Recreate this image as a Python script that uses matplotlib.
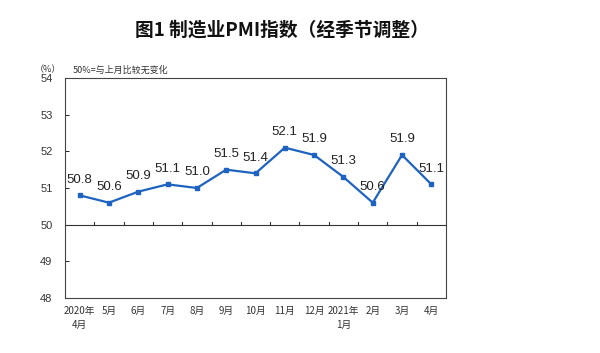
import matplotlib
matplotlib.use("Agg")
import matplotlib.pyplot as plt

plt.rcParams['font.family'] = ['Noto Sans CJK SC', 'DejaVu Sans']

categories = ["2020年\n4月", "5月", "6月", "7月", "8月", "9月", "10月", "11月", "12月",
              "2021年\n1月", "2月", "3月", "4月"]
pmi = [50.8, 50.6, 50.9, 51.1, 51.0, 51.5, 51.4, 52.1, 51.9, 51.3, 50.6, 51.9, 51.1]
y_ticks = [48, 49, 50, 51, 52, 53, 54]

fig = plt.figure(figsize=(6.0, 3.53), dpi=100)
ax = fig.add_axes([65/600, 1-298/353, (446-65)/600, (298-78)/353])

blue = "#1f63c0"
x = list(range(len(pmi)))
ax.plot(x, pmi, color=blue, lw=1.6, marker="s", ms=3.5, zorder=3)
for xi, v in zip(x, pmi):
    ax.annotate(f"{v:.1f}", (xi, v), xytext=(0, 7), textcoords="offset points",
                ha="center", va="bottom", fontsize=9.5, family=["Liberation Sans"],
                color="#222222")

ax.set_xlim(-0.5, len(pmi) - 0.5)
ax.set_ylim(48, 54)
ax.set_yticks(y_ticks)
ax.set_yticklabels([str(t) for t in y_ticks], fontsize=8, family=["Liberation Sans"], color="#333333")
ax.tick_params(axis="y", direction="in", length=3, width=0.6, pad=9, left=True)
ax.set_xticks(x)
ax.set_xticklabels(categories, fontsize=7, color="#333333", linespacing=1.4)
ax.tick_params(axis="x", length=0, pad=6)
for s in ax.spines.values():
    s.set_color("#444444")
    s.set_linewidth(0.8)

# 50 reference line with small category boundary ticks
ax.axhline(50, color="#333333", lw=0.8, zorder=2)
for b in range(1, len(pmi)):
    ax.plot([b - 0.5, b - 0.5], [50, 50.07], color="#333333", lw=0.8)

fig.text(282/600, 1-30/353, "图1 制造业PMI指数（经季节调整）", ha="center", va="center",
         fontsize=13.5, fontweight="bold", color="#111111")
fig.text(35/600, 1-70/353, "（%）", ha="left", va="center", fontsize=6.5, color="#333333")
fig.text(73/600, 1-70/353, "50%=与上月比较无变化", ha="left", va="center", fontsize=6.5, color="#333333")

fig.savefig("out.png", dpi=100)
